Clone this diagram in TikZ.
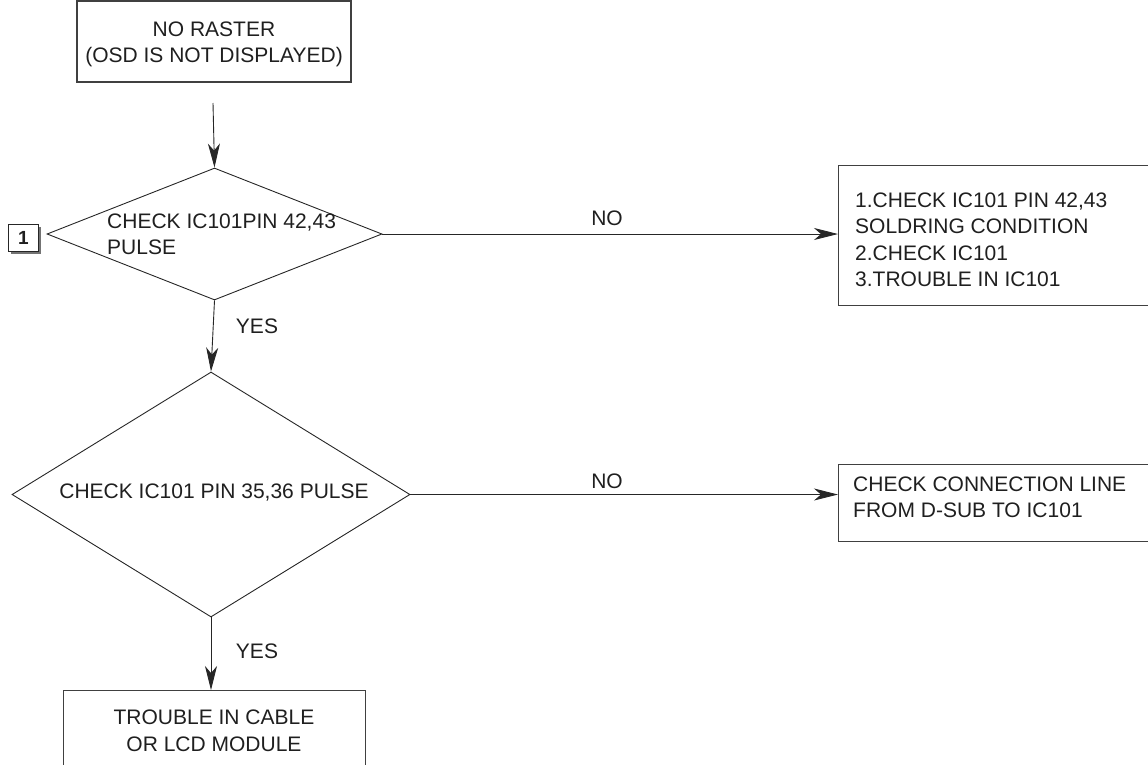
\documentclass[tikz,border=0pt]{standalone}
\usepackage{fontspec}
\setmainfont{Liberation Sans}
\usetikzlibrary{shapes.geometric,arrows.meta,shadows}
\begin{document}
\begin{tikzpicture}[x=1pt,y=-1pt,
  font=\fontsize{21}{26.5}\selectfont,
  every node/.style={text=black!88},
  boxshape/.style={draw=black!75, line width=1.3pt, rectangle, inner sep=0pt},
  txt/.style={inner sep=0pt, anchor=north},
  diashape/.style={diamond, draw=black!85, line width=0.9pt, inner sep=0pt},
  arr/.style={draw=black!85, line width=0.9pt, -{Stealth[length=24pt,width=12pt,inset=7pt]}},
  lbl/.style={inner sep=0pt}
]
\clip (0,0) rectangle (1148,764);
\useasboundingbox (0,0) rectangle (1148,764);

% top box
\node[boxshape, minimum width=274, minimum height=81] (start) at (214,41.5) {};
\node[txt, align=center] (starttxt) at (214,21.5) {NO RASTER\\(OSD IS NOT DISPLAYED)};

% diamond 1
\node[diashape, minimum width=335, minimum height=132] (d1) at (214.5,234) {};
\node[txt, anchor=north west, align=left] (d1txt) at (107,213.5) {CHECK IC101PIN 42,43\\PULSE};

% marker 1
\node[draw=black!85, line width=0.8pt, fill=white, inner sep=0pt,
      minimum width=30, minimum height=27,
      font=\bfseries\fontsize{19}{19}\selectfont,
      drop shadow={shadow xshift=2.5pt, shadow yshift=-2.5pt, fill=black!55, opacity=1}]
      (m1) at (23.5,238) {1};

% right box 1
\node[boxshape, anchor=north west, minimum width=340, minimum height=140] (r1) at (838,165) {};
\node[txt, anchor=north west, align=left] (r1txt) at (855,192.5)
  {1.CHECK IC101 PIN 42,43\\SOLDRING CONDITION\\2.CHECK IC101\\3.TROUBLE IN IC101};

% diamond 2
\node[diashape, minimum width=398, minimum height=245] (d2) at (211,494.5) {};
\node[lbl] (d2txt) at (214,493) {CHECK IC101 PIN 35,36 PULSE};

% right box 2
\node[boxshape, anchor=north west, minimum width=340, minimum height=77] (r2) at (838,464) {};
\node[txt, anchor=north west, align=left] (r2txt) at (853,476.5)
  {CHECK CONNECTION LINE\\FROM D-SUB TO IC101};

% bottom box
\node[boxshape, anchor=north west, minimum width=302, minimum height=110] (end) at (63,690) {};
\node[txt, align=center] (endtxt) at (214,710) {TROUBLE IN CABLE\\OR LCD MODULE};

% connectors
\coordinate (s0) at (213,103);
\draw[arr] (s0) -- (d1.north);
\draw[arr] (d1.east) -- (r1.west |- d1.east);
\draw[arr] (d1.south) -- (d2.north);
\draw[arr] (d2.east) -- (r2.west |- d2.east);
\draw[arr] (d2.south) -- (d2.south |- end.north);

% labels
\node[lbl] (no1) at (607,218) {NO};
\node[lbl] (no2) at (607,481) {NO};
\node[lbl] (yes1) at (257,326) {YES};
\node[lbl] (yes2) at (257,651) {YES};
\end{tikzpicture}
\end{document}
